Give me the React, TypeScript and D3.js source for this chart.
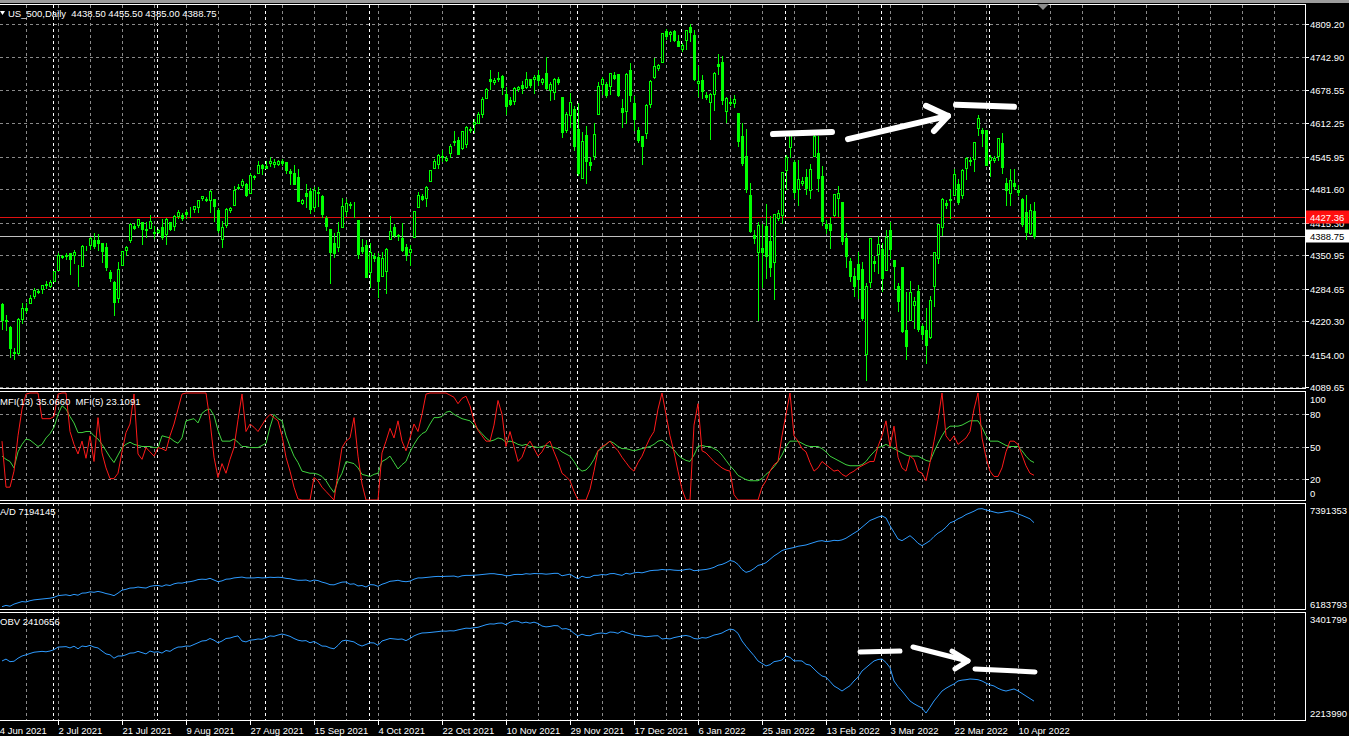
import React, { useRef, useEffect } from 'react';
import * as d3 from 'd3';

const W = 1349;
const H = 736;
const FONT = '"Liberation Sans", Arial, sans-serif';

// daily bars [open, high, low, close], 14 Jun 2021 .. 14 Apr 2022 (broker keeps short Sunday bars)
const ohlc: [number, number, number, number][] = [
  [4255,4256,4204,4223],[4220,4233,4203,4222],[4209,4211,4150,4166],[4160,4166,4146,4158],[4158,4226,4156,4224],[4224,4256,4217,4246],[4247,4256,4239,4242],[4256,4272,4256,4266],[4271,4286,4267,4281],[4278,4283,4276,4280],
  [4284,4292,4275,4291],[4294,4300,4286,4291],[4290,4302,4287,4298],[4300,4320,4300,4320],[4322,4355,4322,4352],[4348,4352,4345,4350],[4350,4356,4344,4352],[4356,4356,4314,4343],[4351,4362,4335,4358],[4321,4331,4289,4321],
  [4329,4372,4329,4370],[4365,4370,4362,4366],[4372,4387,4363,4385],[4381,4394,4365,4369],[4381,4393,4362,4375],[4375,4376,4337,4360],[4368,4376,4322,4327],[4318,4322,4300,4305],[4297,4300,4233,4259],[4266,4337,4259,4323],
  [4331,4359,4331,4359],[4361,4369,4351,4368],[4382,4415,4377,4412],[4408,4412,4402,4405],[4410,4422,4406,4422],[4416,4416,4373,4402],[4402,4416,4387,4401],[4404,4430,4404,4419],[4396,4408,4385,4395],[4397,4403,4394,4400],
  [4406,4422,4384,4387],[4392,4424,4373,4423],[4416,4416,4400,4402],[4408,4430,4401,4429],[4429,4440,4424,4437],[4430,4434,4420,4425],[4437,4440,4425,4432],[4436,4446,4427,4436],[4442,4449,4436,4448],[4447,4461,4437,4460],
  [4464,4468,4461,4468],[4462,4466,4458,4460],[4461,4481,4436,4479],[4462,4462,4418,4449],[4440,4445,4396,4400],[4383,4419,4367,4406],[4410,4444,4407,4442],[4440,4447,4437,4445],[4451,4489,4451,4480],[4485,4492,4482,4486],
  [4490,4501,4486,4497],[4493,4495,4468,4470],[4474,4514,4474,4509],[4505,4510,4502,4508],[4514,4537,4514,4529],[4529,4532,4512,4523],[4528,4537,4523,4524],[4534,4545,4528,4537],[4532,4542,4525,4535],[4532,4540,4530,4538],
  [4538,4542,4530,4534],[4535,4535,4513,4520],[4518,4521,4493,4514],[4513,4529,4493,4493],[4506,4521,4458,4459],[4455,4462,4452,4460],[4474,4492,4446,4469],[4479,4485,4435,4443],[4447,4486,4438,4481],[4477,4486,4448,4474],
  [4469,4471,4427,4433],[4425,4428,4400,4408],[4402,4402,4295,4358],[4375,4394,4347,4355],[4367,4416,4360,4396],[4406,4465,4406,4449],[4438,4463,4430,4455],[4450,4456,4445,4452],[4442,4457,4426,4443],[4420,4420,4346,4353],
  [4367,4384,4355,4360],[4371,4382,4307,4308],[4317,4375,4288,4357],[4350,4355,4340,4345],[4348,4356,4268,4300],[4310,4358,4310,4346],[4320,4365,4275,4364],[4384,4429,4384,4399],[4407,4412,4386,4391],[4388,4393,4382,4390],
  [4385,4415,4360,4361],[4368,4374,4342,4351],[4358,4372,4332,4364],[4386,4439,4386,4438],[4447,4476,4447,4471],[4468,4472,4460,4463],[4464,4488,4448,4487],[4497,4520,4497,4520],[4524,4541,4524,4537],[4532,4551,4524,4549],
  [4547,4559,4538,4545],[4540,4548,4538,4544],[4553,4572,4546,4567],[4578,4598,4569,4575],[4580,4585,4551,4551],[4563,4598,4562,4597],[4572,4608,4565,4605],[4600,4606,4596,4602],[4610,4621,4595,4614],[4613,4635,4613,4631],
  [4630,4664,4624,4660],[4662,4683,4662,4680],[4700,4719,4681,4697],[4695,4702,4690,4698],[4701,4715,4697,4702],[4707,4708,4671,4685],[4670,4685,4630,4647],[4659,4664,4648,4650],[4656,4684,4650,4683],[4680,4686,4676,4684],
  [4689,4697,4672,4683],[4685,4714,4683,4701],[4701,4701,4684,4689],[4700,4708,4672,4705],[4708,4718,4688,4698],[4695,4702,4690,4700],[4712,4744,4681,4682],[4679,4695,4659,4691],[4675,4702,4660,4701],[4700,4705,4690,4695],
  [4665,4665,4586,4595],[4600,4635,4595,4630],[4629,4673,4606,4655],[4640,4646,4560,4567],[4602,4652,4510,4513],[4504,4595,4504,4577],[4589,4608,4495,4538],[4535,4545,4520,4530],[4548,4613,4541,4592],[4631,4694,4631,4686],
  [4690,4705,4670,4701],[4691,4695,4665,4668],[4687,4713,4670,4712],[4708,4714,4700,4703],[4710,4711,4666,4669],[4642,4660,4606,4635],[4637,4712,4612,4710],[4719,4732,4657,4669],[4652,4666,4600,4621],[4600,4605,4575,4580],
  [4588,4588,4531,4568],[4594,4651,4583,4649],[4650,4698,4645,4697],[4704,4741,4703,4725],[4722,4730,4718,4728],[4733,4792,4733,4791],[4795,4800,4780,4786],[4789,4795,4775,4793],[4795,4797,4775,4778],[4776,4787,4765,4766],
  [4760,4772,4755,4768],[4778,4797,4759,4797],[4804,4809,4776,4794],[4787,4797,4699,4701],[4693,4726,4666,4696],[4698,4708,4663,4677],[4668,4675,4660,4665],[4655,4673,4582,4670],[4670,4714,4638,4713],[4729,4749,4710,4726],
  [4733,4745,4650,4659],[4637,4665,4614,4663],[4655,4662,4648,4652],[4652,4668,4645,4660],[4632,4632,4568,4577],[4588,4612,4530,4533],[4547,4602,4477,4483],[4471,4495,4396,4398],[4390,4400,4375,4385],[4357,4417,4222,4410],
  [4366,4412,4287,4357],[4408,4453,4305,4350],[4380,4429,4309,4327],[4337,4432,4264,4432],[4425,4440,4420,4435],[4431,4516,4415,4516],[4519,4550,4483,4546],[4566,4596,4545,4589],[4536,4540,4465,4477],[4482,4539,4451,4501],
  [4495,4505,4490,4498],[4506,4522,4472,4484],[4480,4531,4465,4522],[4548,4591,4548,4587],[4554,4588,4478,4504],[4507,4527,4411,4419],[4412,4420,4395,4405],[4413,4426,4365,4401],[4430,4473,4429,4472],[4464,4489,4429,4475],
  [4456,4456,4374,4380],[4385,4394,4328,4349],[4340,4345,4300,4310],[4310,4325,4270,4290],[4333,4357,4267,4304],[4324,4338,4222,4226],[4155,4295,4104,4289],[4298,4385,4287,4385],[4340,4350,4320,4335],[4354,4388,4315,4374],
  [4364,4375,4279,4306],[4322,4401,4322,4387],[4401,4416,4345,4363],[4342,4342,4284,4329],[4290,4295,4240,4260],[4328,4328,4199,4201],[4203,4277,4145,4171],[4223,4299,4223,4278],[4252,4269,4207,4260],[4279,4292,4200,4204],
  [4210,4215,4185,4195],[4202,4247,4138,4173],[4188,4271,4187,4262],[4289,4358,4251,4358],[4345,4412,4335,4412],[4407,4465,4390,4463],[4455,4460,4445,4450],[4462,4481,4425,4461],[4470,4522,4470,4512],[4493,4501,4452,4456],
  [4470,4521,4465,4520],[4523,4546,4501,4543],[4540,4545,4530,4538],[4541,4575,4518,4575],[4603,4628,4589,4622],[4600,4603,4568,4593],[4599,4600,4530,4530],[4540,4549,4507,4546],[4540,4548,4536,4544],[4547,4583,4539,4583],
  [4573,4593,4514,4526],[4495,4503,4450,4481],[4474,4521,4451,4500],[4494,4521,4482,4488],[4480,4490,4470,4476],[4462,4464,4408,4413],[4437,4471,4384,4397],[4394,4453,4392,4440],[4438.5,4455.5,4385,4388.75],
];

// MFI(13), green
const mfi13 = [
  41,38,36,30,45,52,57,56,53,50, 52,58,62,68,80,88,85,78,72,63, 63,64,64,60,57,52,46,40,35,42,
  49,52,54,52,51,50,50,50,49,49, 60,59,58,55,53,58,74,75,76,72, 81,84,85,79,65,55,55,55,57,54,
  50,50,49,49,49,51,53,68,80,76, 74,60,50,41,35,27,26,25,25,24, 22,18,12,7,18,25,36,35,34,30,
  24,23,22,24,25,36,38,41,35,29, 33,36,45,52,58,62,64,71,77,77, 78,82,83,80,78,76,75,74,70,66,
  62,58,55,56,58,57,54,55,54,52, 51,52,50,50,49,50,51,50,49,48, 45,43,41,36,30,27,28,32,38,46,
  48,52,55,53,50,48,48,47,46,47, 48,49,50,52,55,56,53,50,47,42, 39,37,36,42,50,51,50,50,48,46,
  42,37,32,28,23,21,19,18,18,18, 20,24,27,31,36,42,50,55,55,55, 53,51,50,50,50,48,45,41,39,37,
  35,33,32,32,32,33,36,41,45,49, 50,52,50,48,46,44,42,41,41,41, 39,37,36,45,53,60,66,69,69,69,
  70,72,74,74,74,68,60,55,55,55, 53,51,50,50,50,46,41,37,35.066,
];

// MFI(5), red
const mfi5 = [
  55,12,12,27,60,85,99,100,100,100, 76,76,76,78,99,100,100,64,52,43, 55,39,60,36,77,44,30,20,20,25,
  45,63,71,99,43,38,49,45,41,49, 48,46,60,71,85,99,100,100,100,100, 100,100,74,40,21,34,25,38,49,75,
  99,64,71,68,64,70,76,80,77,74, 60,40,27,12,1,0,0,0,21,18, 12,8,4,0,25,49,55,58,77,41,
  15,0,0,0,0,44,55,67,58,74, 55,46,58,71,64,80,99,100,100,100, 100,100,98,96,90,95,97,88,74,65,
  60,55,55,70,93,80,50,64,50,36, 40,50,55,48,41,45,52,55,45,36, 25,22,18,8,0,0,0,10,27,46,
  50,52,55,50,46,40,35,30,27,35, 41,50,58,64,85,100,80,60,45,27, 10,0,0,70,90,46,44,40,36,33,
  30,28,27,5,0,0,0,0,0,0, 12,18,27,33,36,60,80,100,60,55, 48,45,35,27,30,36,33,30,27,28,
  24,22,25,27,30,32,34,36,36,50, 60,74,50,69,40,30,27,41,38,27, 25,18,35,55,75,100,60,55,60,52,
  55,58,64,85,100,58,40,27,22,22, 30,45,55,55,52,42,32,25,23.1091,
];

// Accumulation/Distribution, thousands
const adLine = [
  6200,6215,6205,6230,6245,6260,6255,6270,6280,6285, 6290,6295,6300,6310,6330,6335,6340,6330,6345,6335,
  6360,6362,6375,6370,6380,6370,6355,6345,6330,6360, 6395,6405,6420,6422,6432,6425,6420,6440,6448,6450,
  6440,6458,6450,6470,6480,6478,6490,6495,6505,6520, 6525,6522,6535,6515,6495,6505,6525,6528,6540,6545,
  6550,6540,6540,6540,6545,6540,6542,6548,6545,6548, 6545,6535,6530,6520,6512,6512,6515,6500,6515,6508,
  6490,6478,6460,6458,6475,6490,6492,6465,6470,6445, 6450,6432,6460,6458,6440,6465,6480,6500,6505,6512,
  6500,6495,6502,6525,6540,6540,6545,6550,6555,6558, 6556,6559,6560,6562,6550,6565,6570,6570,6572,6575,
  6580,6585,6590,6590,6582,6578,6565,6568,6580,6582, 6580,6590,6585,6592,6590,6590,6584,6588,6594,6594,
  6565,6575,6585,6555,6530,6560,6545,6548,6570,6571, 6580,6575,6590,6592,6580,6570,6595,6585,6600,6606,
  6600,6612,6625,6630,6632,6640,6635,6638,6632,6629, 6630,6640,6645,6625,6630,6635,6640,6650,6665,6690,
  6700,6720,6746,6735,6700,6640,6606,6620,6650,6688, 6700,6720,6760,6800,6830,6864,6880,6890,6900,6915,
  6922,6930,6945,6960,6975,6981,6970,6975,6985,6981, 6990,7010,7040,7070,7098,7140,7180,7220,7239,7260,
  7274,7250,7157,7080,7000,6981,7010,7040,7000,6950, 6922,6950,6981,7030,7070,7098,7140,7192,7210,7239,
  7260,7290,7309,7330,7356,7360,7345,7333,7320,7309, 7315,7325,7333,7320,7298,7280,7260,7239,7194.145,
];

// On Balance Volume, thousands
const obvLine = [
  2878,2900,2870,2875,2910,2936,2950,2965,2980,2985, 2990,2985,2994,3010,3040,3042,3045,3030,3050,3020,
  3052,3045,3060,3040,3030,2994,2960,2950,2910,2936, 2936,2950,2970,2972,2990,2975,2960,2994,2980,2985,
  2970,3000,2990,3020,3040,3042,3052,3050,3070,3090, 3111,3115,3140,3120,3090,3110,3140,3145,3160,3170,
  3111,3100,3120,3125,3134,3130,3150,3170,3165,3180, 3192,3180,3165,3140,3120,3111,3115,3090,3105,3080,
  3052,3050,3030,3020,3060,3111,3120,3110,3100,3070, 3052,3070,3090,3088,3060,3111,3125,3140,3135,3130,
  3134,3115,3140,3170,3190,3204,3206,3210,3215,3220, 3227,3225,3230,3228,3240,3250,3260,3258,3265,3270,
  3285,3300,3310,3308,3318,3320,3300,3330,3344,3340, 3320,3330,3318,3330,3315,3285,3275,3280,3290,3288,
  3250,3255,3240,3200,3169,3190,3175,3172,3190,3200, 3204,3195,3215,3212,3200,3227,3210,3195,3180,3175,
  3169,3160,3165,3170,3172,3134,3140,3135,3150,3160, 3169,3175,3165,3140,3134,3150,3145,3160,3180,3190,
  3204,3230,3250,3240,3200,3111,3050,2994,2940,2878, 2850,2820,2835,2870,2878,2890,2936,2920,2878,2880,
  2878,2840,2830,2785,2740,2703,2690,2640,2587,2560, 2528,2560,2590,2645,2690,2761,2800,2840,2878,2895,
  2901,2860,2800,2645,2580,2528,2470,2412,2380,2354, 2330,2272,2340,2412,2470,2528,2560,2587,2610,2645,
  2655,2660,2668,2665,2660,2645,2620,2600,2587,2560, 2540,2528,2540,2552,2530,2500,2470,2440,2410.656,
];

const priceTicks = [4809.20, 4742.90, 4678.55, 4612.25, 4545.95, 4481.60, 4415.30, 4350.95, 4284.65, 4220.30, 4154.00, 4089.65];
const mfiLevels = [80, 50, 20];
const dateLabels = ['14 Jun 2021', '2 Jul 2021', '21 Jul 2021', '9 Aug 2021', '27 Aug 2021', '15 Sep 2021', '4 Oct 2021', '22 Oct 2021', '10 Nov 2021', '29 Nov 2021', '17 Dec 2021', '6 Jan 2022', '25 Jan 2022', '13 Feb 2022', '3 Mar 2022', '22 Mar 2022', '10 Apr 2022'];
const dateLabelBars = [-2, 14, 30, 46, 62, 78, 94, 110, 126, 142, 158, 174, 190, 206, 222, 238, 254];
const monthStartBars = [13, 39, 66, 92, 118, 144, 170, 196, 220, 247];

const levelPrice = 4427.36;
const bidPrice = 4388.75;

// hand drawn marks, [bar, value]
const priceMarks: [number, number][][] = [
  [[192.75, 4591], [207.5, 4595]],
  [[211.5, 4581], [236.5, 4627]],
  [[231, 4647], [236.5, 4627], [233, 4597]],
  [[238.5, 4649], [253, 4645]],
];
const obvMarks: [number, number][][] = [
  [[214.5, 2983], [224.5, 2994]],
  [[227.75, 3041], [241.5, 2878]],
  [[237.5, 2994], [241.5, 2878], [238.25, 2785]],
  [[243.25, 2785], [258.25, 2750]],
];

const App: React.FC = () => {
  const svgRef = useRef<SVGSVGElement>(null);

  useEffect(() => {
    if (!svgRef.current) return;
    const svg = d3.select(svgRef.current);
    svg.selectAll('*').remove();

    const right = 1305;
    const panels = {
      main: { top: 4.5, bottom: 388.5 },
      mfi: { top: 391.5, bottom: 500.5 },
      ad: { top: 503.5, bottom: 609.5 },
      obv: { top: 612.5, bottom: 720.5 },
    };

    const x = d3.scaleLinear().domain([0, ohlc.length - 1]).range([2, 2 + 4 * (ohlc.length - 1)]);
    const yMain = d3.scaleLinear().domain([4089.65, 4809.2]).range([387, 24]);
    const yMfi = d3.scaleLinear().domain([0, 100]).range([500, 393]);
    const yAd = d3.scaleLinear().domain([6183.793, 7391.353]).range([608, 506]);
    const yObv = d3.scaleLinear().domain([2213.99, 3401.799]).range([718, 616]);

    svg.append('rect').attr('width', W).attr('height', H).attr('fill', '#000');
    svg.append('rect').attr('width', W).attr('height', 3).attr('fill', '#9c9c9c');

    const defs = svg.append('defs');
    Object.entries(panels).forEach(([k, p]) => {
      defs.append('clipPath').attr('id', `clip-${k}`)
        .append('rect').attr('x', 0).attr('y', p.top).attr('width', right).attr('height', p.bottom - p.top);
    });

    // vertical grid + month separators
    const grid = svg.append('g').attr('shape-rendering', 'crispEdges');
    d3.range(6, 330, 8).forEach(i => {
      const gx = Math.round(x(i)) + 0.5;
      if (gx >= right) return;
      grid.append('line').attr('x1', gx).attr('x2', gx).attr('y1', panels.main.top).attr('y2', panels.obv.bottom)
        .attr('stroke', '#8a8a8a').attr('stroke-dasharray', '3,3');
    });
    monthStartBars.forEach(i => {
      const gx = Math.round(x(i)) - 0.5;
      grid.append('line').attr('x1', gx).attr('x2', gx).attr('y1', panels.main.top).attr('y2', panels.obv.bottom)
        .attr('stroke', '#ffffff').attr('stroke-dasharray', '3,3');
    });

    // horizontal grid
    priceTicks.forEach(p => {
      const gy = Math.round(yMain(p)) + 0.5;
      grid.append('line').attr('x1', 0).attr('x2', right).attr('y1', gy).attr('y2', gy)
        .attr('stroke', '#8a8a8a').attr('stroke-dasharray', '3,3');
    });
    mfiLevels.forEach(v => {
      const gy = Math.round(yMfi(v)) + 0.5;
      grid.append('line').attr('x1', 0).attr('x2', right).attr('y1', gy).attr('y2', gy)
        .attr('stroke', '#8a8a8a').attr('stroke-dasharray', '3,3');
    });

    // price level and bid line
    const ly = Math.round(yMain(levelPrice)) + 0.5;
    grid.append('line').attr('x1', 0).attr('x2', right).attr('y1', ly).attr('y2', ly).attr('stroke', '#e01010');
    const by = Math.round(yMain(bidPrice)) + 0.5;
    grid.append('line').attr('x1', 0).attr('x2', right).attr('y1', by).attr('y2', by).attr('stroke', '#c0c0c0');

    // candles
    const candles = svg.append('g').attr('clip-path', 'url(#clip-main)').attr('shape-rendering', 'crispEdges');
    ohlc.forEach(([o, h, l, c], i) => {
      const cx = Math.round(x(i));
      candles.append('line')
        .attr('x1', cx + 0.5).attr('x2', cx + 0.5)
        .attr('y1', Math.round(yMain(h))).attr('y2', Math.round(yMain(l)) + 1)
        .attr('stroke', '#00ff00');
      const top = Math.round(yMain(Math.max(o, c)));
      const bot = Math.round(yMain(Math.min(o, c)));
      candles.append('rect')
        .attr('x', cx - 0.5).attr('y', top + 0.5)
        .attr('width', 2).attr('height', Math.max(bot - top, 0))
        .attr('fill', c >= o ? '#000' : '#00ff00')
        .attr('stroke', '#00ff00');
    });

    // indicator lines
    const drawLine = (data: number[], y: d3.ScaleLinear<number, number>, color: string, clip: string) => {
      const line = d3.line<number>().x((_, i) => x(i)).y(d => y(d));
      svg.append('path').datum(data)
        .attr('clip-path', `url(#clip-${clip})`)
        .attr('d', line)
        .attr('fill', 'none')
        .attr('stroke', color)
        .attr('stroke-width', 1);
    };
    drawLine(mfi13, yMfi, '#3fd23f', 'mfi');
    drawLine(mfi5, yMfi, '#ff1a1a', 'mfi');
    drawLine(adLine, yAd, '#2e9bff', 'ad');
    drawLine(obvLine, yObv, '#2e9bff', 'obv');

    // panel frames
    const frames = svg.append('g').attr('shape-rendering', 'crispEdges');
    Object.values(panels).forEach(p => {
      frames.append('path')
        .attr('d', `M-1,${p.top}H${right + 0.5}V${p.bottom}H-1`)
        .attr('fill', 'none').attr('stroke', '#ffffff');
    });

    const text = (tx: number, ty: number, s: string, fill = '#ffffff', anchor = 'start') =>
      svg.append('text').attr('x', tx).attr('y', ty).attr('fill', fill)
        .attr('font-family', FONT).attr('font-size', 9.5).attr('text-anchor', anchor).text(s);

    // right price scale
    priceTicks.forEach(p => {
      const ty = Math.round(yMain(p)) + 0.5;
      frames.append('line').attr('x1', right).attr('x2', right + 4).attr('y1', ty).attr('y2', ty).attr('stroke', '#fff');
      text(1310, ty + 3.5, p.toFixed(2));
    });
    mfiLevels.forEach(v => {
      const ty = Math.round(yMfi(v)) + 0.5;
      frames.append('line').attr('x1', right).attr('x2', right + 4).attr('y1', ty).attr('y2', ty).attr('stroke', '#fff');
      text(1310, ty + 3.5, String(v));
    });
    text(1310, panels.mfi.top + 11, '100');
    text(1310, panels.mfi.bottom - 4, '0');
    text(1310, panels.ad.top + 10, '7391353');
    text(1310, panels.ad.bottom - 2, '6183793');
    text(1310, panels.obv.top + 10, '3401799');
    text(1310, panels.obv.bottom - 4, '2213990');

    // price level boxes
    svg.append('rect').attr('x', 1306).attr('y', ly - 7).attr('width', 43).attr('height', 13).attr('fill', '#ff1010');
    text(1310, ly + 3.5, levelPrice.toFixed(2));
    svg.append('rect').attr('x', 1306).attr('y', by - 7).attr('width', 43).attr('height', 13).attr('fill', '#ffffff');
    text(1310, by + 3.5, bidPrice.toFixed(2), '#000');

    // titles
    svg.append('path').attr('d', 'M0,11 L5,11 L2.5,15 Z').attr('fill', '#ffffff');
    text(8, 17, 'US_500,Daily  4438.50 4455.50 4385.00 4388.75').attr('xml:space', 'preserve');
    text(0, 405, 'MFI(13) 35.0660  MFI(5) 23.1091').attr('xml:space', 'preserve');
    text(0, 515, 'A/D 7194145');
    text(0, 625, 'OBV 2410656');

    // chart shift marker
    svg.append('path').attr('d', 'M1037,4 L1049,4 L1043,10 Z').attr('fill', '#8c8c8c');

    // dates
    dateLabelBars.forEach((b, i) => {
      const tx = Math.round(x(b)) + 0.5;
      frames.append('line').attr('x1', tx).attr('x2', tx).attr('y1', panels.obv.bottom).attr('y2', panels.obv.bottom + 4).attr('stroke', '#fff');
      text(tx, 734, dateLabels[i]);
    });

    // hand drawn marks
    const markLine = (y: d3.ScaleLinear<number, number>) =>
      d3.line<[number, number]>().x(d => x(d[0])).y(d => y(d[1]));
    priceMarks.forEach(m => {
      svg.append('path').attr('d', markLine(yMain)(m)).attr('fill', 'none').attr('stroke', '#fff')
        .attr('stroke-width', 6).attr('stroke-linecap', 'round').attr('stroke-linejoin', 'round');
    });
    obvMarks.forEach(m => {
      svg.append('path').attr('d', markLine(yObv)(m)).attr('fill', 'none').attr('stroke', '#fff')
        .attr('stroke-width', 5).attr('stroke-linecap', 'round').attr('stroke-linejoin', 'round');
    });
  }, []);

  return (
    <svg
      ref={svgRef}
      width={W}
      height={H}
      style={{ position: 'absolute', left: 0, top: 0, display: 'block' }}
    />
  );
};

export default App;
